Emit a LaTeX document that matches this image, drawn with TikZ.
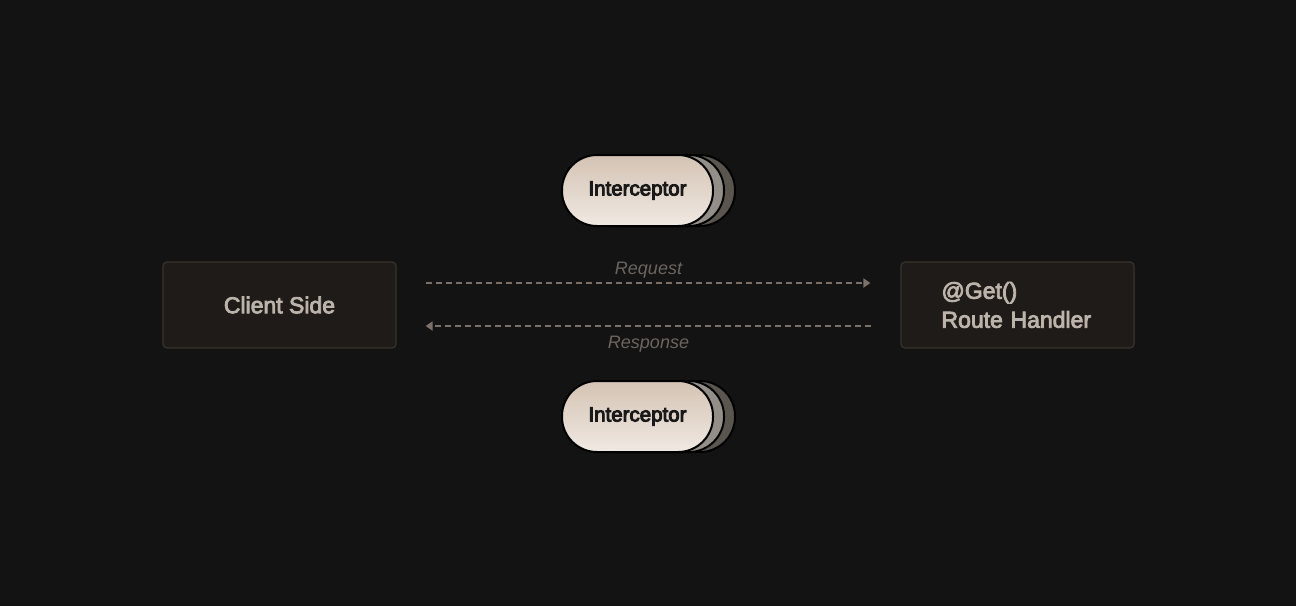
\documentclass[tikz,border=0pt]{standalone}
\usepackage{fontspec}
\setmainfont{Liberation Sans}
\newfontface\medfont{Liberation Sans}[FakeBold=3.5]
\newfontface\pillfont{Liberation Sans}[FakeBold=4.5]
\usetikzlibrary{arrows.meta}
\definecolor{bgc}{HTML}{131313}
\definecolor{boxfill}{HTML}{1E1B18}
\definecolor{boxline}{HTML}{3A332D}
\definecolor{boxtext}{HTML}{BCB4AA}
\definecolor{flowc}{HTML}{7B716A}
\definecolor{labc}{HTML}{6C655F}
\definecolor{pilltop}{HTML}{D4C3B3}
\definecolor{pillbot}{HTML}{F0E9E3}
\definecolor{back1}{HTML}{948E88}
\definecolor{back2}{HTML}{5A554F}

\begin{document}
\begin{tikzpicture}[x=1pt,y=-1pt,>={Triangle[length=7pt,width=9pt]},
    every node/.style={font=\medfont\fontsize{23}{29}\selectfont},
    side/.style={draw=boxline,fill=boxfill,line width=1.2pt,rounded corners=4pt,
        minimum width=233pt,minimum height=86pt,text=boxtext},
    pill/.style={draw=black,line width=2pt,rounded corners=35pt,
        minimum width=151pt,minimum height=71pt},
    flow/.style={flowc,line width=1.8pt,dash pattern=on 6pt off 4pt},
    lab/.style={text=labc,font=\itshape\fontsize{18}{20}\selectfont}]
    \fill[bgc] (0,0) rectangle (1296,606);
    \useasboundingbox (0,0) rectangle (1296,606);

    \node[side] (client) at (279.5,305) {Client Side};
    \node[side,align=left,text width=152pt,inner xsep=0pt] (route) at (1017.5,305) {@Get()\\Route Handler};

    \node[pill,fill=back2] (ib2) at (659.5,190.5) {};
    \node[pill,fill=back1] (ib1) at (648.5,190.5) {};
    \node[pill,top color=pilltop,bottom color=pillbot,text=black!90] (itop) at (637.5,190.5)
        {\pillfont\fontsize{20.5}{24}\selectfont Interceptor};

    \node[pill,fill=back2] (jb2) at (659.5,416.5) {};
    \node[pill,fill=back1] (jb1) at (648.5,416.5) {};
    \node[pill,top color=pilltop,bottom color=pillbot,text=black!90] (ibot) at (637.5,416.5)
        {\pillfont\fontsize{20.5}{24}\selectfont Interceptor};

    \draw[flow,->,shorten <=29pt,shorten >=30pt] ([yshift=22pt]client.east) -- ([yshift=22pt]route.west)
        node[midway,above=1pt,lab] {Request};
    \draw[flow,->,shorten <=29pt,shorten >=29pt] ([yshift=-21pt]route.west) -- ([yshift=-21pt]client.east)
        node[midway,below=6pt,lab] {Response};
\end{tikzpicture}
\end{document}
